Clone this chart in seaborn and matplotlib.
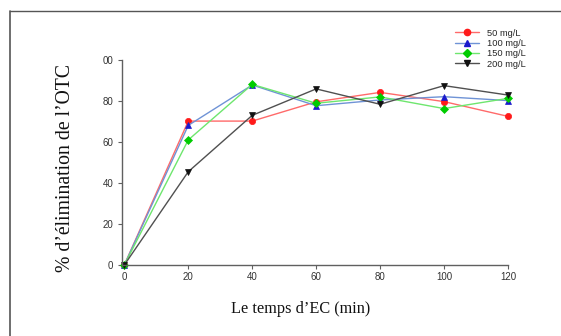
import matplotlib
matplotlib.use("Agg")
import matplotlib.pyplot as plt
import seaborn as sns
import pandas as pd
from matplotlib.lines import Line2D

time_min = [0, 20, 40, 60, 80, 100, 120]
c50 = [0, 70.2, 70.2, 79.6, 84.2, 79.7, 72.5]
c100 = [0, 68.1, 87.8, 77.7, 80.5, 82.1, 80.2]
c150 = [0, 61.0, 88.1, 78.9, 82.0, 76.3, 81.3]
c200 = [0, 45.5, 73.0, 85.9, 78.4, 87.5, 82.9]
series_labels = ["50 mg/L", "100 mg/L", "150 mg/L", "200 mg/L"]
y_ticks = [0, 20, 40, 60, 80, 100]
y_ticklabels = ["0", "20", "40", "60", "80", "00"]
x_ticks = [0, 20, 40, 60, 80, 100, 120]

sns.set_style("white")
plt.rcParams['font.family'] = ['Liberation Sans', 'DejaVu Sans']

W, H = 561, 336
fig = plt.figure(figsize=(W / 100, H / 100), dpi=100)
ax = fig.add_axes([124 / W - 0.004, (H - 265) / H, (508 - 124) / W + 0.004, (265 - 60) / H])

styles = [
    dict(line="#ff6a6a", face="#ff1a1a", marker="o", ms=4.5),
    dict(line="#6f93d6", face="#1a1acc", marker="^", ms=5),
    dict(line="#6ee66e", face="#00cc00", marker="D", ms=3.8),
    dict(line="#505050", face="#111111", marker="v", ms=5),
]
data = [c50, c100, c150, c200]
handles = []
for vals, lab, st in zip(data, series_labels, styles):
    df = pd.DataFrame({"t": time_min, "v": vals})
    sns.lineplot(data=df, x="t", y="v", ax=ax, color=st["line"], linewidth=1.0,
                 marker=st["marker"], markersize=st["ms"], markerfacecolor=st["face"],
                 markeredgecolor=st["face"], markeredgewidth=0.5, clip_on=False)
    handles.append(Line2D([0], [0], color=st["line"], lw=1.0, marker=st["marker"],
                          markersize=st["ms"], markerfacecolor=st["face"],
                          markeredgecolor=st["face"], label=lab))

ax.set_xlim(-0.8, 120)
ax.set_ylim(0, 100)
ax.set_xticks(x_ticks)
ax.set_yticks(y_ticks)
ax.set_yticklabels(y_ticklabels)
ax.set_xlabel("")
ax.set_ylabel("")
for s in ["top", "right"]:
    ax.spines[s].set_visible(False)
for s in ["left", "bottom"]:
    ax.spines[s].set_color("#606060")
    ax.spines[s].set_linewidth(1.0)
ax.tick_params(axis="both", which="both", direction="out", length=3, width=0.8,
               color="#606060", labelsize=7, labelcolor="#333333", pad=3,
               bottom=True, left=True)
ax.tick_params(axis="x", pad=2)

fig.text(301 / W, 1 - 309 / H, "Le temps d\u2019EC (min)", ha="center", va="center",
         family=["Liberation Serif", "DejaVu Serif"], fontsize=11.7, color="#111111")
fig.text(65 / W, 1 - 168 / H, "% d\u2019\u00e9limination de l\u2019OTC", ha="center", va="center",
         rotation=90, family=["Liberation Serif", "DejaVu Serif"], fontsize=14.2, color="#111111")

fig.legend(handles=handles, loc="upper left", bbox_to_anchor=(455 / W, 1 - 28.5 / H),
           frameon=False, fontsize=6.7, handlelength=2.6, handletextpad=0.8,
           labelspacing=0.15, borderpad=0, borderaxespad=0)

# outer frame (top and left edges)
fig.add_artist(Line2D([9.5 / W, 9.5 / W], [0, 1 - 11 / H], transform=fig.transFigure,
                      color="#555555", lw=1.2))
fig.add_artist(Line2D([9.5 / W, 1], [1 - 11 / H, 1 - 11 / H], transform=fig.transFigure,
                      color="#555555", lw=1.0))

fig.savefig("out.png", dpi=100)
